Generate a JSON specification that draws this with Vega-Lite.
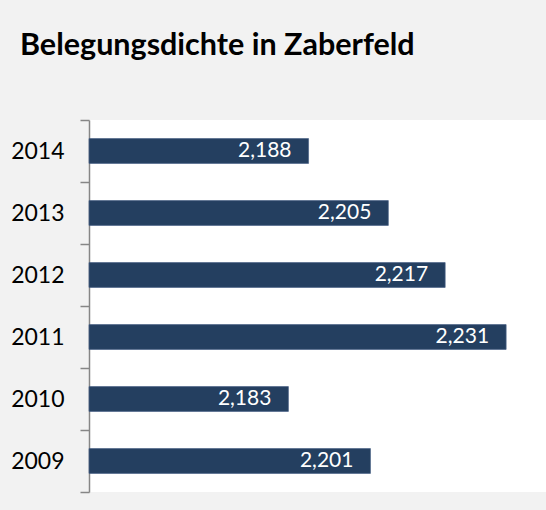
{
  "$schema": "https://vega.github.io/schema/vega-lite/v6.json",
  "autosize": "none",
  "width": 457,
  "height": 372,
  "padding": {"left": 89, "top": 120, "right": 0, "bottom": 18},
  "background": "#f2f2f2",
  "config": {
    "locale": {"number": {"decimal": ",", "thousands": ".", "grouping": [3], "currency": ["", " €"]}},
    "view": {"fill": "white", "stroke": null},
    "font": "Lato"
  },
  "title": {
    "text": "Belegungsdichte in Zaberfeld",
    "anchor": "start",
    "frame": "group",
    "font": "Lato",
    "fontSize": 30.5,
    "fontWeight": "bold",
    "color": "black",
    "baseline": "alphabetic",
    "offset": 64,
    "dx": -69,
    "dy": 40
  },
  "data": {
    "values": [
      {"Jahr": "2014", "Wert": 2.1876},
      {"Jahr": "2013", "Wert": 2.2050},
      {"Jahr": "2012", "Wert": 2.2174},
      {"Jahr": "2011", "Wert": 2.2307},
      {"Jahr": "2010", "Wert": 2.1832},
      {"Jahr": "2009", "Wert": 2.2011}
    ]
  },
  "encoding": {
    "y": {
      "field": "Jahr",
      "type": "nominal",
      "sort": "descending",
      "scale": {"paddingInner": 0, "paddingOuter": 0},
      "axis": {
        "title": null,
        "tickBand": "extent",
        "tickSize": 9,
        "tickColor": "#868686",
        "tickWidth": 1.5,
        "domainColor": "#868686",
        "domainWidth": 1.5,
        "labelFont": "Lato",
        "labelFontSize": 23,
        "labelColor": "black",
        "labelPadding": 16
      }
    },
    "x": {
      "field": "Wert",
      "type": "quantitative",
      "scale": {"domain": [2.1397, 2.2394], "zero": false, "nice": false, "clamp": true},
      "axis": null
    }
  },
  "layer": [
    {"mark": {"type": "bar", "height": {"band": 0.4}, "color": "#243f60", "stroke": "#4a6387", "strokeWidth": 0.7}},
    {
      "mark": {"type": "text", "align": "right", "baseline": "middle", "dx": -17, "color": "white", "font": "Lato", "fontSize": 21},
      "encoding": {"text": {"field": "Wert", "type": "quantitative", "format": ".3f"}}
    }
  ]
}
